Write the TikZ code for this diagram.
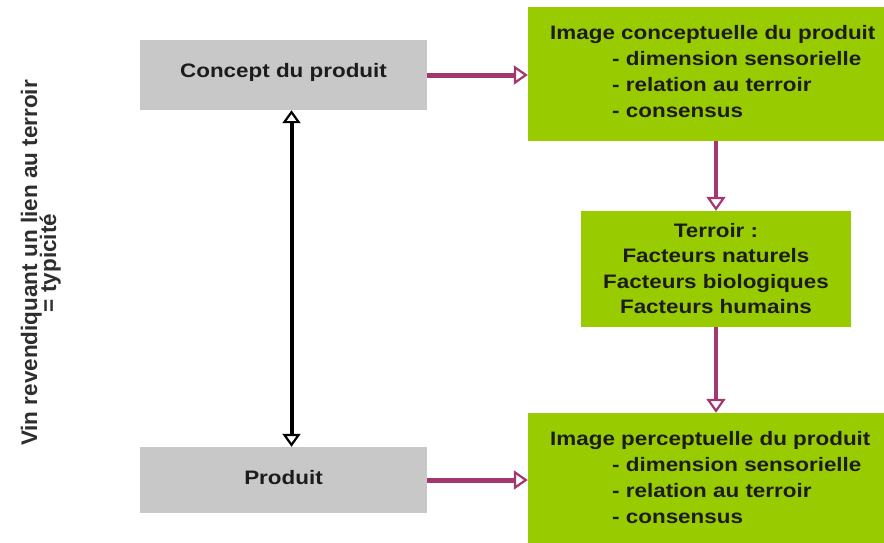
\documentclass[tikz,border=0pt]{standalone}
\usepackage{fontspec}
\setmainfont{Liberation Sans}
\newfontfamily\boxfont[FakeStretch=1.15]{Liberation Sans}
\usetikzlibrary{arrows.meta}
\definecolor{boxgray}{HTML}{C8C8C8}
\definecolor{lime}{HTML}{99CC00}
\definecolor{plum}{HTML}{A3376F}
\definecolor{ink}{HTML}{1C1C1C}
\definecolor{sidegray}{HTML}{2E2E2E}
\begin{document}
\begin{tikzpicture}[x=1pt,y=-1pt,
  graybox/.style={draw=none, fill=boxgray, rectangle, inner sep=0pt},
  greenbox/.style={draw=none, fill=lime, rectangle, inner sep=0pt},
  boxtext/.style={inner sep=0pt, text=ink, font=\boxfont\bfseries\fontsize{19.5}{19.5}\selectfont},
  sidetext/.style={inner sep=0pt, rotate=90, anchor=base, text=sidegray, font=\bfseries\fontsize{22.5}{22.5}\selectfont},
  plumarrow/.style={draw=plum, line width=5pt, -{Triangle[open, line width=2.2pt, length=14pt, width=19pt]}},
  plumvarrow/.style={draw=plum, line width=4pt, -{Triangle[open, line width=2.2pt, length=14pt, width=19pt]}},
  blackarrow/.style={draw=black, line width=4pt, {Triangle[open, line width=2.2pt, length=13pt, width=18pt]}-{Triangle[open, line width=2.2pt, length=13pt, width=18pt]}}
]
\useasboundingbox (0,0) rectangle (884,542);
\fill[white] (0,0) rectangle (884,542);

% boxes
\node[graybox, minimum width=287pt, minimum height=70pt] (concept) at (283.5,75) {};
\node[graybox, minimum width=287pt, minimum height=66pt] (produit) at (283.5,480) {};
\node[greenbox, minimum width=356pt, minimum height=134pt] (img1) at (706,74) {};
\node[greenbox, minimum width=270pt, minimum height=116pt] (terroir) at (716,269) {};
\node[greenbox, minimum width=356pt, minimum height=134pt] (img2) at (706,480) {};

% texts
\node[boxtext, anchor=base] (tconcept) at (283.5,77) {Concept du produit};
\node[boxtext, anchor=base] (tproduit) at (283.5,484) {Produit};

\node[boxtext, anchor=base west] (a1) at (550,39) {Image conceptuelle du produit};
\node[boxtext, anchor=base west] (a2) at (612,65) {- dimension sensorielle};
\node[boxtext, anchor=base west] (a3) at (612,91) {- relation au terroir};
\node[boxtext, anchor=base west] (a4) at (612,117) {- consensus};

\node[boxtext, anchor=base] (t1) at (716,237) {Terroir :};
\node[boxtext, anchor=base] (t2) at (716,262.5) {Facteurs naturels};
\node[boxtext, anchor=base] (t3) at (716,288) {Facteurs biologiques};
\node[boxtext, anchor=base] (t4) at (716,313.5) {Facteurs humains};

\node[boxtext, anchor=base west] (b1) at (550,445) {Image perceptuelle du produit};
\node[boxtext, anchor=base west] (b2) at (612,471) {- dimension sensorielle};
\node[boxtext, anchor=base west] (b3) at (612,497) {- relation au terroir};
\node[boxtext, anchor=base west] (b4) at (612,523) {- consensus};

\node[sidetext] (side1) at (37,263) {Vin revendiquant un lien au terroir};
\node[sidetext] (side2) at (56,263) {= typicité};

% connectors
\draw[plumarrow] (concept.east) -- (concept.east -| img1.west);
\draw[plumarrow] (produit.east) -- (produit.east -| img2.west);
\draw[plumvarrow] (terroir.north |- img1.south) -- (terroir.north);
\draw[plumvarrow] (terroir.south) -- (terroir.south |- img2.north);
\draw[blackarrow] ([xshift=8pt]concept.south) -- ([xshift=8pt]produit.north);
\end{tikzpicture}
\end{document}
